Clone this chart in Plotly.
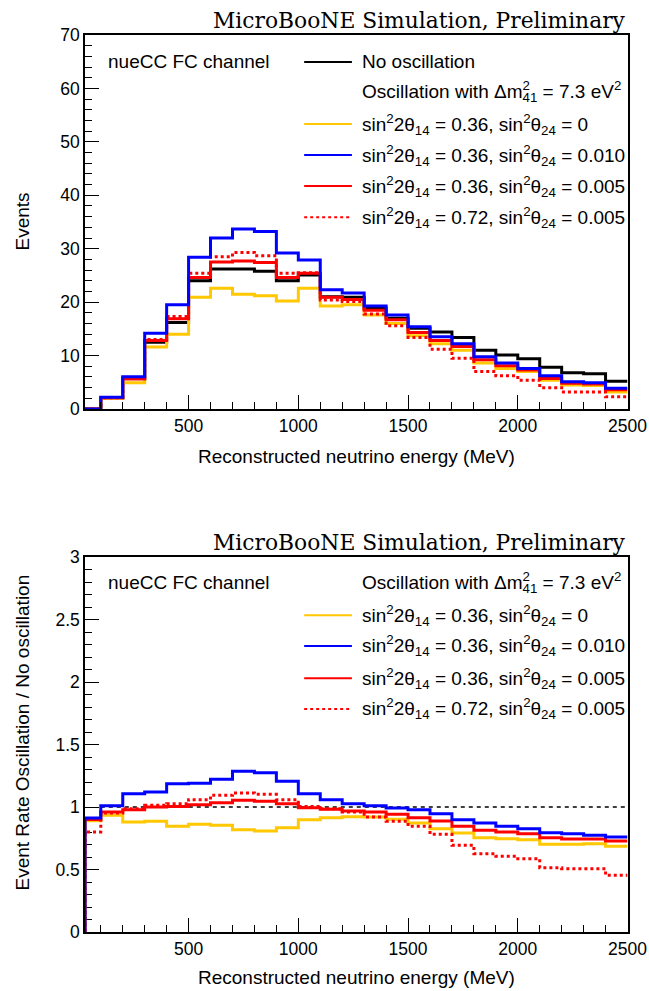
import plotly.graph_objects as go

# ---------------- data ----------------
# bin edges (MeV); first edge is the lower end of the displayed axis
edges = [28] + list(range(100, 2600, 100))

top_no_osc = [0, 2.1, 5.7, 12.5, 16.2, 24.0, 26.2, 26.2, 25.8, 24.0, 25.1, 21.0,
              20.9, 18.9, 17.0, 15.1, 14.4, 13.4, 11.0, 10.1, 9.4, 7.8, 6.8, 6.6, 5.2]
top_y036_0 = [0, 2.0, 4.9, 11.6, 14.0, 20.9, 22.6, 21.5, 21.2, 20.2, 22.6, 19.3,
              19.5, 17.6, 16.0, 13.7, 12.2, 11.0, 8.6, 7.6, 7.0, 5.4, 4.5, 4.4, 3.2]
top_b036_010 = [0, 2.2, 6.05, 14.2, 19.5, 28.4, 32.0, 33.7, 33.2, 29.2, 27.9, 22.3,
                21.7, 19.3, 17.6, 15.4, 13.5, 12.2, 9.8, 8.6, 7.6, 6.2, 5.1, 4.9, 3.9]
top_r036_005 = [0, 2.1, 5.6, 12.8, 16.9, 24.6, 27.5, 27.7, 27.4, 24.6, 25.4, 20.9,
                20.5, 18.5, 16.7, 14.3, 12.8, 11.7, 9.2, 8.1, 7.3, 5.7, 4.8, 4.7, 3.6]
top_r072_005 = [0, 2.1, 5.8, 13.0, 17.3, 25.4, 28.5, 29.3, 28.7, 25.4, 25.5, 20.4,
                20.1, 17.8, 15.6, 13.4, 11.2, 9.5, 7.0, 6.2, 5.4, 4.0, 3.2, 3.2, 2.3]

rat_y036_0 = [0.89, 0.934, 0.88, 0.886, 0.846, 0.862, 0.854, 0.819, 0.808, 0.835, 0.899, 0.915,
              0.922, 0.92, 0.902, 0.872, 0.827, 0.792, 0.755, 0.747, 0.739, 0.702, 0.702, 0.707, 0.686]
rat_b036_010 = [0.912, 1.01, 1.107, 1.12, 1.187, 1.19, 1.222, 1.286, 1.275, 1.206, 1.107, 1.059,
                1.027, 1.011, 0.992, 0.979, 0.947, 0.899, 0.872, 0.846, 0.827, 0.795, 0.787, 0.774, 0.76]
rat_r036_005 = [0.90, 0.96, 0.979, 1.0, 1.005, 1.019, 1.035, 1.054, 1.046, 1.027, 0.995, 0.982,
                0.968, 0.96, 0.942, 0.915, 0.888, 0.846, 0.814, 0.80, 0.787, 0.755, 0.744, 0.744, 0.728]
rat_r072_005 = [0.80, 0.952, 0.987, 1.014, 1.027, 1.059, 1.094, 1.112, 1.102, 1.059, 1.005, 0.987,
                0.96, 0.92, 0.886, 0.846, 0.782, 0.694, 0.627, 0.606, 0.587, 0.515, 0.507, 0.507, 0.454]

unity = [1, 1]

x_ticks = [500, 1000, 1500, 2000, 2500]
y_top_ticks = [0, 10, 20, 30, 40, 50, 60, 70]
y_bot_ticks = [0, 0.5, 1, 1.5, 2, 2.5, 3]
y_bot_labels = ["0", "0.5", "1", "1.5", "2", "2.5", "3"]

title_text = "MicroBooNE Simulation, Preliminary"
channel_text = "nueCC FC channel"
xlabel = "Reconstructed neutrino energy (MeV)"
ylabel_top = "Events"
ylabel_bot = "Event Rate Oscillation / No oscillation"
lab_noosc = "No oscillation"
lab_osc = ("Oscillation with Δm<sup><span style='letter-spacing:-7.4px'>2</span></sup>"
           "<sub>41</sub> = 7.3 eV<sup>2</sup>")
lab_y = "sin<sup>2</sup>2θ<sub>14</sub> = 0.36, sin<sup>2</sup>θ<sub>24</sub> = 0"
lab_b = "sin<sup>2</sup>2θ<sub>14</sub> = 0.36, sin<sup>2</sup>θ<sub>24</sub> = 0.010"
lab_r = "sin<sup>2</sup>2θ<sub>14</sub> = 0.36, sin<sup>2</sup>θ<sub>24</sub> = 0.005"
lab_rd = "sin<sup>2</sup>2θ<sub>14</sub> = 0.72, sin<sup>2</sup>θ<sub>24</sub> = 0.005"

BLACK = "#000000"
YELLOW = "#FFC800"
BLUE = "#0000FF"
RED = "#FF0000"
FONT = "Liberation Sans"

# ---------------- figure ----------------
fig = go.Figure()


def step(vals):
    xs = [edges[0]] + list(edges)
    ys = [0] + list(vals) + [vals[-1]]
    return xs, ys


top_series = [
    (top_no_osc, BLACK, "solid"),
    (top_y036_0, YELLOW, "solid"),
    (top_r072_005, RED, "dot"),
    (top_r036_005, RED, "solid"),
    (top_b036_010, BLUE, "solid"),
]
for vals, col, dash in top_series:
    xs, ys = step(vals)
    fig.add_trace(go.Scatter(x=xs, y=ys, mode="lines", line_shape="hv",
                             line=dict(color=col, width=3, dash=dash),
                             xaxis="x", yaxis="y", showlegend=False, hoverinfo="skip"))

fig.add_trace(go.Scatter(x=[edges[1], edges[-1]], y=unity, mode="lines",
                         line=dict(color=BLACK, width=1.5, dash="4px,4px"),
                         xaxis="x2", yaxis="y2", showlegend=False, hoverinfo="skip"))

bot_series = [
    (rat_y036_0, YELLOW, "solid"),
    (rat_r072_005, RED, "dot"),
    (rat_r036_005, RED, "solid"),
    (rat_b036_010, BLUE, "solid"),
]
for vals, col, dash in bot_series:
    xs, ys = step(vals)
    fig.add_trace(go.Scatter(x=xs, y=ys, mode="lines", line_shape="hv",
                             line=dict(color=col, width=3, dash=dash),
                             xaxis="x2", yaxis="y2", showlegend=False, hoverinfo="skip"))

W, H = 649, 991
x0, x1 = 85, 627.5
top_y0, top_y1 = 35, 409
bot_y0, bot_y1 = 557, 932

xdom = [x0 / W, x1 / W]
ydom_top = [1 - top_y1 / H, 1 - top_y0 / H]
ydom_bot = [1 - bot_y1 / H, 1 - bot_y0 / H]

axis_common = dict(showline=True, mirror=True, linecolor="black", linewidth=1.5,
                   showgrid=False, zeroline=False, ticks="inside", tickcolor="black",
                   automargin=False,
                   tickwidth=1, tickfont=dict(family=FONT, size=17.5, color="black"))

xaxis_cfg = dict(axis_common, range=[edges[0], edges[-1]], tickvals=x_ticks, ticklen=14,
                 minor=dict(ticks="inside", dtick=100, tick0=0, ticklen=7, tickcolor="black", tickwidth=1),
                 domain=xdom)

fig.update_layout(
    width=W, height=H, margin=dict(l=0, r=0, t=0, b=0, autoexpand=False),
    paper_bgcolor="white", plot_bgcolor="white",
    xaxis=dict(xaxis_cfg, anchor="y"),
    yaxis=dict(axis_common, range=[0, 70], tickvals=y_top_ticks, ticklen=14, domain=ydom_top,
               anchor="x", layer="below traces",
               minor=dict(ticks="inside", dtick=2, tick0=0, ticklen=7, tickcolor="black", tickwidth=1)),
    xaxis2=dict(xaxis_cfg, anchor="y2"),
    yaxis2=dict(axis_common, range=[0, 3], tickvals=y_bot_ticks, ticktext=y_bot_labels, ticklen=14,
                domain=ydom_bot, anchor="x2", layer="below traces",
                minor=dict(ticks="inside", dtick=0.1, tick0=0, ticklen=7, tickcolor="black", tickwidth=1)),
    showlegend=False,
)

ann = []
shapes = []


def add_text(text, x, y, xref, yref, size=19, xanchor="left", family=FONT, **kw):
    ann.append(dict(text=text, x=x, y=y, xref=xref, yref=yref, xanchor=xanchor,
                    yanchor="middle", showarrow=False,
                    font=dict(family=family, size=size, color="black"), **kw))


# titles
for xa, ya in (("x", "y"), ("x2", "y2")):
    ann.append(dict(text=title_text, x=1.0, y=1.0, xref=f"{xa} domain", yref=f"{ya} domain",
                    xanchor="right", yanchor="bottom", showarrow=False,
                    font=dict(family="DejaVu Serif", size=21.8, color="black")))

# axis titles
add_text(xlabel, 0.5, 1 - 457 / H, "x domain", "paper", xanchor="center")
add_text(xlabel, 0.5, 1 - 977 / H, "x2 domain", "paper", xanchor="center")
add_text(ylabel_top, 21.5 / W, 1 - 222 / H, "paper", "paper", xanchor="center", textangle=-90)
add_text(ylabel_bot, 21.5 / W, 1 - 733 / H, "paper", "paper", xanchor="center", textangle=-90)

# legends
lx0, lx1, ltx = 0.404, 0.492, 0.5074
add_text(channel_text, 0.0387, 0.928, "x domain", "y domain")
add_text(channel_text, 0.0387, 0.931, "x2 domain", "y2 domain")

top_rows = [(lab_noosc, BLACK, "solid", 0.928), (lab_osc, None, None, 0.848),
            (lab_y, YELLOW, "solid", 0.762), (lab_b, BLUE, "solid", 0.679),
            (lab_r, RED, "solid", 0.596), (lab_rd, RED, "dot", 0.513)]
bot_rows = [(lab_osc, None, None, 0.931),
            (lab_y, YELLOW, "solid", 0.845), (lab_b, BLUE, "solid", 0.763),
            (lab_r, RED, "solid", 0.677), (lab_rd, RED, "dot", 0.595)]

for rows, xa, ya in ((top_rows, "x", "y"), (bot_rows, "x2", "y2")):
    for text, col, dash, yy in rows:
        add_text(text, ltx, yy, f"{xa} domain", f"{ya} domain")
        if col is not None:
            shapes.append(dict(type="line", xref=f"{xa} domain", yref=f"{ya} domain",
                               x0=lx0, x1=lx1, y0=yy, y1=yy,
                               line=dict(color=col, width=2, dash=dash)))

fig.update_layout(annotations=ann, shapes=shapes)
fig.write_html("out.html")
